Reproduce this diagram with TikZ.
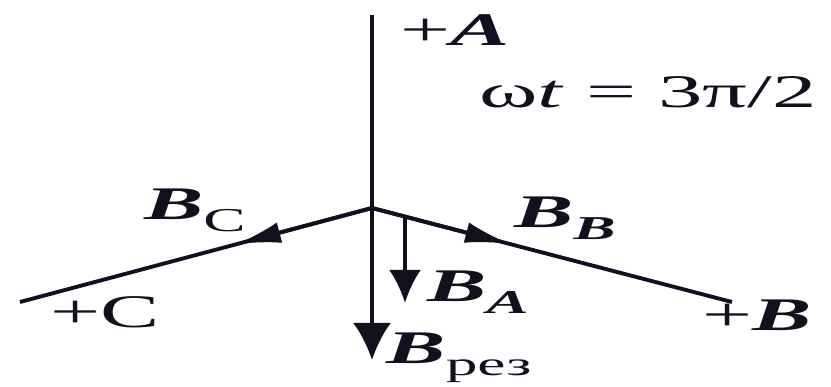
\documentclass[tikz,border=0pt]{standalone}
\usepackage{fontspec}
\setmainfont[FakeStretch=1.9]{Liberation Serif}
\usepackage{tikz}
\usetikzlibrary{arrows.meta, positioning, calc}
\definecolor{cInk}{RGB}{20,15,30}
\newcommand{\lowsub}[1]{\raisebox{-0.55ex}{\fontsize{9.5}{11}\selectfont #1}}
\tikzset{
	axis/.style   ={line width=1.1pt, cInk},
	vecbig/.style ={-{Latex[length=3.7mm, width=3.8mm]}, line width=1.1pt, cInk},
	vecmid/.style ={-{Latex[length=3.3mm, width=3.2mm]}, line width=1.1pt, cInk},
	vecflat/.style={-{Latex[length=4.5mm, width=2.1mm]}, line width=1.1pt, cInk},
	lbl/.style    ={inner sep=0pt, font=\fontsize{13.3}{16}\selectfont, text=cInk},
}
\begin{document}
\begin{tikzpicture}
	\useasboundingbox (-3.72,-1.79) rectangle (4.59,2.08);
	% phase axes
	\coordinate (O) at (0,0);
	\coordinate (Aend) at (0,1.93);
	\coordinate (Bend) at (3.60,-0.94);
	\coordinate (Cend) at (-3.52,-0.94);
	\draw[axis] (O) -- (Aend);
	\draw[axis] (O) -- (Bend);
	\draw[axis] (O) -- (Cend);
	% field vectors
	\coordinate (BCtip) at (-1.36,-0.363);
	\coordinate (BBtip) at (1.38,-0.36);
	\coordinate (BAstart) at (0.33,-0.08);
	\coordinate (BAtip) at (0.33,-0.95);
	\coordinate (Rtip) at (0,-1.52);
	\draw[vecflat] (O) -- (BCtip);
	\draw[vecflat] (O) -- (BBtip);
	\draw[vecmid] (BAstart) -- (BAtip);
	\draw[vecbig] (O) -- (Rtip);
	% labels
	\node[lbl] (lA) at (0.83,1.78) {+\textbf{\textit{A}}};
	\node[lbl] (lwt) at (2.76,1.16) {ω\textit{t} = 3π/2};
	\node[lbl] (lBC) at (-1.77,-0.02) {\textbf{\textit{B}}\lowsub{C}};
	\node[lbl] (lC) at (-2.67,-1.04) {+C};
	\node[lbl] (lBB) at (1.93,-0.10) {\textbf{\textit{B}}\lowsub{\textbf{\textit{B}}}};
	\node[lbl] (lBA) at (1.06,-0.84) {\textbf{\textit{B}}\lowsub{\textbf{\textit{A}}}};
	\node[lbl] (lB) at (3.85,-1.07) {+\textbf{\textit{B}}};
	\node[lbl] (lR) at (0.87,-1.50) {\textbf{\textit{B}}\lowsub{рез}};
\end{tikzpicture}
\end{document}
